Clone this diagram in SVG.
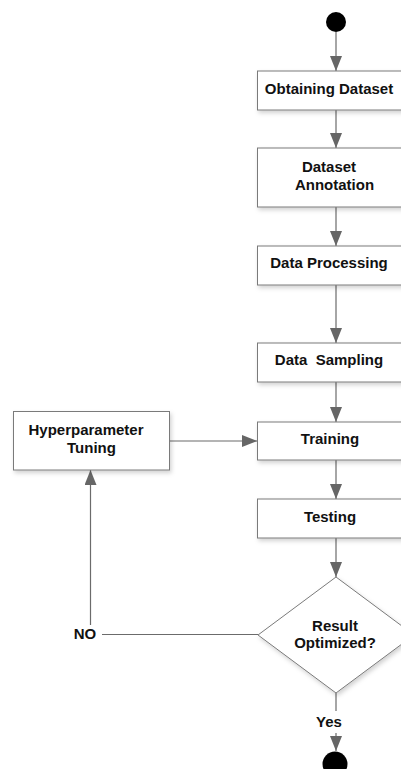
<svg xmlns="http://www.w3.org/2000/svg" width="401" height="769" viewBox="0 0 401 769">
<style>
.box{fill:#fff;stroke:#7a7a7a;stroke-width:1;filter:url(#sh)}
.t{font-family:"Liberation Sans",Arial,sans-serif;font-weight:bold;font-size:15px;fill:#111;text-anchor:middle}
.c{fill:none;stroke:#6b6b6b;stroke-width:1.2}
</style>
<defs>
<filter id="sh" x="-10%" y="-20%" width="130%" height="150%">
<feDropShadow dx="1.5" dy="2.5" stdDeviation="2" flood-color="#000" flood-opacity="0.18"/>
</filter>
<marker id="ah" markerUnits="userSpaceOnUse" markerWidth="15" markerHeight="12" refX="15" refY="6" orient="auto">
<path d="M0,0 L15,6 L0,12 z" fill="#666"/>
</marker>
</defs>
<g id="start"><circle cx="336" cy="22" r="10" fill="#000"/></g>
<g id="connectors">
<line class="c" x1="336" y1="32" x2="336" y2="71" marker-end="url(#ah)"/>
<line class="c" x1="336" y1="110" x2="336" y2="148" marker-end="url(#ah)"/>
<line class="c" x1="336" y1="207" x2="336" y2="246" marker-end="url(#ah)"/>
<line class="c" x1="336" y1="285" x2="336" y2="343" marker-end="url(#ah)"/>
<line class="c" x1="336" y1="382" x2="336" y2="422" marker-end="url(#ah)"/>
<line class="c" x1="336" y1="460" x2="336" y2="499" marker-end="url(#ah)"/>
<line class="c" x1="336" y1="538" x2="336" y2="577" marker-end="url(#ah)"/>
<line class="c" x1="169.5" y1="441" x2="257" y2="441" marker-end="url(#ah)"/>
<line class="c" x1="258" y1="634.5" x2="102" y2="634.5"/>
<line class="c" x1="90.5" y1="625" x2="90.5" y2="470" marker-end="url(#ah)"/>
<line class="c" x1="336" y1="693" x2="336" y2="711"/>
<line class="c" x1="336" y1="733" x2="336" y2="751" marker-end="url(#ah)"/>
<text class="t" x="85" y="639">NO</text>
<text class="t" x="329" y="727">Yes</text>
</g>
<g id="obtaining"><rect class="box" x="257.5" y="71" width="160" height="39"/><text class="t" x="329" y="94">Obtaining Dataset</text></g>
<g id="annotation"><rect class="box" x="257.5" y="148" width="160" height="59"/><text class="t" x="329" y="172">Dataset</text><text class="t" x="334.5" y="190">Annotation</text></g>
<g id="processing"><rect class="box" x="257.5" y="246" width="160" height="39"/><text class="t" x="329" y="267.5">Data Processing</text></g>
<g id="sampling"><rect class="box" x="257.5" y="343" width="160" height="39"/><text class="t" x="329" y="365" xml:space="preserve">Data  Sampling</text></g>
<g id="training"><rect class="box" x="257.5" y="422" width="160" height="38"/><text class="t" x="330" y="443.5">Training</text></g>
<g id="testing"><rect class="box" x="257.5" y="499" width="160" height="39"/><text class="t" x="330" y="521.5">Testing</text></g>
<g id="hyper"><rect class="box" x="13.5" y="411.5" width="156" height="58.5"/><text class="t" x="86" y="435">Hyperparameter</text><text class="t" x="91.5" y="453">Tuning</text></g>
<g id="decision"><polygon class="box" points="336,577 414,635 336,693 258,635"/><text class="t" x="335" y="631">Result</text><text class="t" x="335" y="648">Optimized?</text></g>
<g id="end"><circle cx="335" cy="764" r="12.5" fill="#000"/></g>
</svg>
